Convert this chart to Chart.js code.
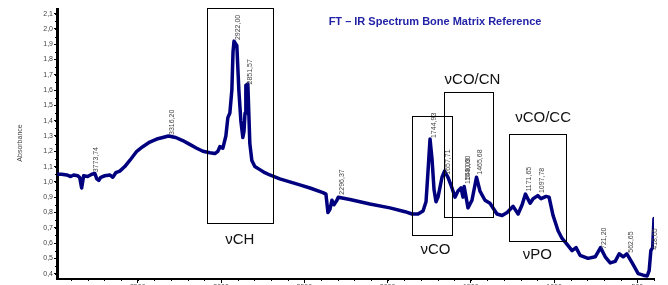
<!DOCTYPE html>
<html>
<head>
<meta charset="utf-8">
<script src="https://cdn.jsdelivr.net/npm/chart.js@4"></script>
<style>
    html, body { margin: 0; padding: 0; background: #ffffff; }
    #wrap { width: 668px; height: 285px; }
</style>
</head>
<body>
<div id="wrap"><canvas id="spectrum" width="668" height="285"></canvas></div>
<script>
    // ===== 光谱数据 (cm-1 / absorbance) =====
    const wavenumber = [
        3985, 3957, 3927, 3903, 3885, 3861, 3849, 3837, 3825, 3801,
        3776, 3758, 3746, 3734, 3722, 3698, 3668, 3650, 3632, 3608,
        3578, 3548, 3506, 3470, 3428, 3386, 3350, 3316, 3272, 3230,
        3188, 3146, 3109, 3067, 3037, 3019, 3007, 2989, 2971, 2959,
        2947, 2935, 2928, 2922, 2905, 2893, 2881, 2869, 2862, 2856,
        2851, 2839, 2827, 2815, 2797, 2767, 2737, 2707, 2647, 2587,
        2527, 2466, 2388, 2370, 2358, 2346, 2334, 2322, 2304, 2296,
        2226, 2106, 1986, 1895, 1853, 1817, 1787, 1769, 1757, 1745,
        1733, 1721, 1709, 1697, 1673, 1658, 1637, 1613, 1595, 1577,
        1559, 1547, 1540, 1517, 1493, 1466, 1445, 1415, 1385, 1343,
        1312, 1282, 1246, 1216, 1192, 1172, 1144, 1126, 1098, 1078,
        1048, 1030, 1006, 976, 952, 928, 892, 868, 844, 796,
        753, 721, 693, 663, 633, 609, 585, 563, 531, 495,
        465, 441, 429, 419, 408, 400
    ];
    const absorbance = [
        1.05, 1.05, 1.045, 1.035, 1.045, 1.04, 1.03, 0.96, 1.04, 1.035,
        1.05, 1.055, 1.02, 1.01, 1.03, 1.04, 1.045, 1.03, 1.06, 1.07,
        1.10, 1.14, 1.20, 1.23, 1.26, 1.28, 1.29, 1.30, 1.29, 1.27,
        1.245, 1.22, 1.20, 1.19, 1.185, 1.20, 1.23, 1.22, 1.30, 1.42,
        1.45, 1.60, 1.85, 1.92, 1.89, 1.60, 1.40, 1.29, 1.33, 1.45,
        1.63, 1.64, 1.25, 1.14, 1.10, 1.08, 1.06, 1.045, 1.02, 1.00,
        0.98, 0.96, 0.93, 0.92, 0.80, 0.82, 0.88, 0.85, 0.88, 0.90,
        0.885, 0.855, 0.83, 0.805, 0.79, 0.79, 0.81, 0.87, 1.07, 1.28,
        1.15, 0.95, 0.87, 0.90, 1.03, 1.07, 1.03, 0.96, 0.90, 0.94,
        0.96, 0.90, 0.97, 0.83, 0.88, 1.03, 0.94, 0.88, 0.86, 0.79,
        0.78, 0.80, 0.84, 0.79, 0.85, 0.92, 0.86, 0.89, 0.91, 0.89,
        0.905, 0.90, 0.78, 0.68, 0.63, 0.60, 0.55, 0.57, 0.52, 0.50,
        0.51, 0.57, 0.51, 0.47, 0.48, 0.53, 0.51, 0.53, 0.47, 0.40,
        0.39, 0.385, 0.42, 0.55, 0.57, 0.76
    ];

    // 坐标轴刻度
    const xTickValues = [3500, 3000, 2500, 2000, 1500, 1000, 500];
    const yTickValues = [0.4, 0.5, 0.6, 0.7, 0.8, 0.9, 1.0, 1.1, 1.2, 1.3, 1.4, 1.5, 1.6, 1.7, 1.8, 1.9, 2.0, 2.1];

    // 峰标注
    const peakLabels = ["3773,74", "3316,20", "2922,00", "2851,57", "2296,37", "1744,93", "1657,71",
                        "1543,03", "1540,60", "1465,68", "1171,65", "1097,78", "721,20", "562,65", "418,65"];
    const peakWave = [3773.74, 3316.20, 2922.00, 2851.57, 2296.37, 1744.93, 1657.71,
                      1543.03, 1540.60, 1465.68, 1171.65, 1097.78, 721.20, 562.65, 418.65];
    const peakAbs = [1.056, 1.30, 1.92, 1.63, 0.91, 1.28, 1.04, 0.98, 1.00, 1.04, 0.93, 0.92, 0.555, 0.53, 0.55];

    // 谱带区域 (cm-1 from, to, absorbance top, bottom)
    const bandBoxes = [
        [3085, 2689, 2.137, 0.73],
        [1853, 1613, 1.433, 0.651],
        [1661, 1367, 1.59, 0.769],
        [1270, 928, 1.316, 0.612]
    ];
    const bandNames = ["νCH", "νCO", "νCO/CN", "νCO/CC", "νPO"];
    const bandNameWave = [2887, 1712, 1490, 1066, 1100];
    const bandNameAbs = [0.62, 0.553, 1.668, 1.42, 0.52];

    const titleText = "FT – IR Spectrum Bone Matrix Reference";
    const yTitle = "Absorbance";

    // ===== 标注插件 =====
    const annotate = {
        id: "annotate",
        afterDraw(chart) {
            const { ctx, scales: { x, y } } = chart;
            ctx.save();

            // 次刻度
            ctx.strokeStyle = "#000000";
            ctx.lineWidth = 1;
            const bottom = chart.chartArea.bottom;
            for (let w = 400; w <= 3900; w += 100) {
                const px = Math.round(x.getPixelForValue(w)) + 0.5;
                ctx.beginPath();
                ctx.moveTo(px, bottom - 1);
                ctx.lineTo(px, bottom + 2);
                ctx.stroke();
            }
            const left = chart.chartArea.left;
            for (let a = 0.4; a <= 2.12; a += 0.05) {
                const py = Math.round(y.getPixelForValue(a)) + 0.5;
                ctx.beginPath();
                ctx.moveTo(left - 2, py);
                ctx.lineTo(left + 1, py);
                ctx.stroke();
            }

            // 谱带框
            ctx.strokeStyle = "#000000";
            ctx.lineWidth = 1;
            bandBoxes.forEach(b => {
                const x1 = Math.round(x.getPixelForValue(b[0])) + 0.5;
                const x2 = Math.round(x.getPixelForValue(b[1])) + 0.5;
                const y1 = Math.round(y.getPixelForValue(b[2])) + 0.5;
                const y2 = Math.round(y.getPixelForValue(b[3])) + 0.5;
                ctx.strokeRect(x1, y1, x2 - x1, y2 - y1);
            });

            ctx.fillStyle = "#111111";
            ctx.font = "15px 'Liberation Sans', Arial, sans-serif";
            ctx.textAlign = "center";
            ctx.textBaseline = "middle";
            bandNames.forEach((n, i) => {
                ctx.fillText(n, x.getPixelForValue(bandNameWave[i]), y.getPixelForValue(bandNameAbs[i]));
            });

            // 峰值文字 (竖排)
            ctx.fillStyle = "#444444";
            ctx.font = "7px 'Liberation Sans', Arial, sans-serif";
            ctx.textAlign = "left";
            ctx.textBaseline = "middle";
            peakLabels.forEach((t, i) => {
                const px = x.getPixelForValue(peakWave[i]) + 4;
                const py = y.getPixelForValue(peakAbs[i]) - 1;
                ctx.save();
                ctx.translate(px, py);
                ctx.rotate(-Math.PI / 2);
                ctx.fillText(t, 0, 0);
                ctx.restore();
            });

            // 标题
            ctx.fillStyle = "#2323a8";
            ctx.font = "bold 11px 'Liberation Sans', Arial, sans-serif";
            ctx.textAlign = "center";
            ctx.fillText(titleText, 435, 22);

            // y 轴标题
            ctx.fillStyle = "#444444";
            ctx.font = "7px 'Liberation Sans', Arial, sans-serif";
            ctx.translate(20, 143);
            ctx.rotate(-Math.PI / 2);
            ctx.fillText(yTitle, 0, 0);

            ctx.restore();
        }
    };

    const ctx = document.getElementById("spectrum").getContext("2d");
    const spectrumChart = new Chart(ctx, {
        type: "line",
        data: {
            datasets: [{
                data: wavenumber.map((w, i) => ({ x: w, y: absorbance[i] })),
                borderColor: "#00007f",
                borderWidth: 3.5,
                borderJoinStyle: "round",
                borderCapStyle: "round",
                pointRadius: 0,
                tension: 0,
                fill: false
            }]
        },
        options: {
            responsive: false,
            animation: false,
            layout: { padding: { top: 9, right: 14, left: 0, bottom: 0 } },
            plugins: {
                legend: { display: false },
                tooltip: { enabled: false }
            },
            scales: {
                x: {
                    type: "linear",
                    reverse: true,
                    min: 400,
                    max: 3985,
                    afterBuildTicks: s => { s.ticks = xTickValues.map(v => ({ value: v })); },
                    afterFit: s => { s.height = 6; },
                    grid: { drawOnChartArea: false, drawTicks: true, tickLength: 4, tickColor: "#000000" },
                    border: { display: true, color: "#000000", width: 2 },
                    ticks: {
                        color: "#555555",
                        padding: 0,
                        maxRotation: 0,
                        autoSkip: false,
                        font: { size: 7, family: "'Liberation Sans', Arial, sans-serif" },
                        callback: v => String(v)
                    }
                },
                y: {
                    min: 0.365,
                    max: 2.13,
                    afterBuildTicks: s => { s.ticks = yTickValues.map(v => ({ value: v })); },
                    afterFit: s => { s.width = 57; },
                    grid: { drawOnChartArea: false, drawTicks: true, tickLength: 3, tickColor: "#000000" },
                    border: { display: true, color: "#000000", width: 3 },
                    ticks: {
                        color: "#444444",
                        padding: 1,
                        autoSkip: false,
                        font: { size: 7, family: "'Liberation Sans', Arial, sans-serif" },
                        callback: v => v.toFixed(1).replace(".", ",")
                    }
                }
            }
        },
        plugins: [annotate]
    });
</script>
</body>
</html>
